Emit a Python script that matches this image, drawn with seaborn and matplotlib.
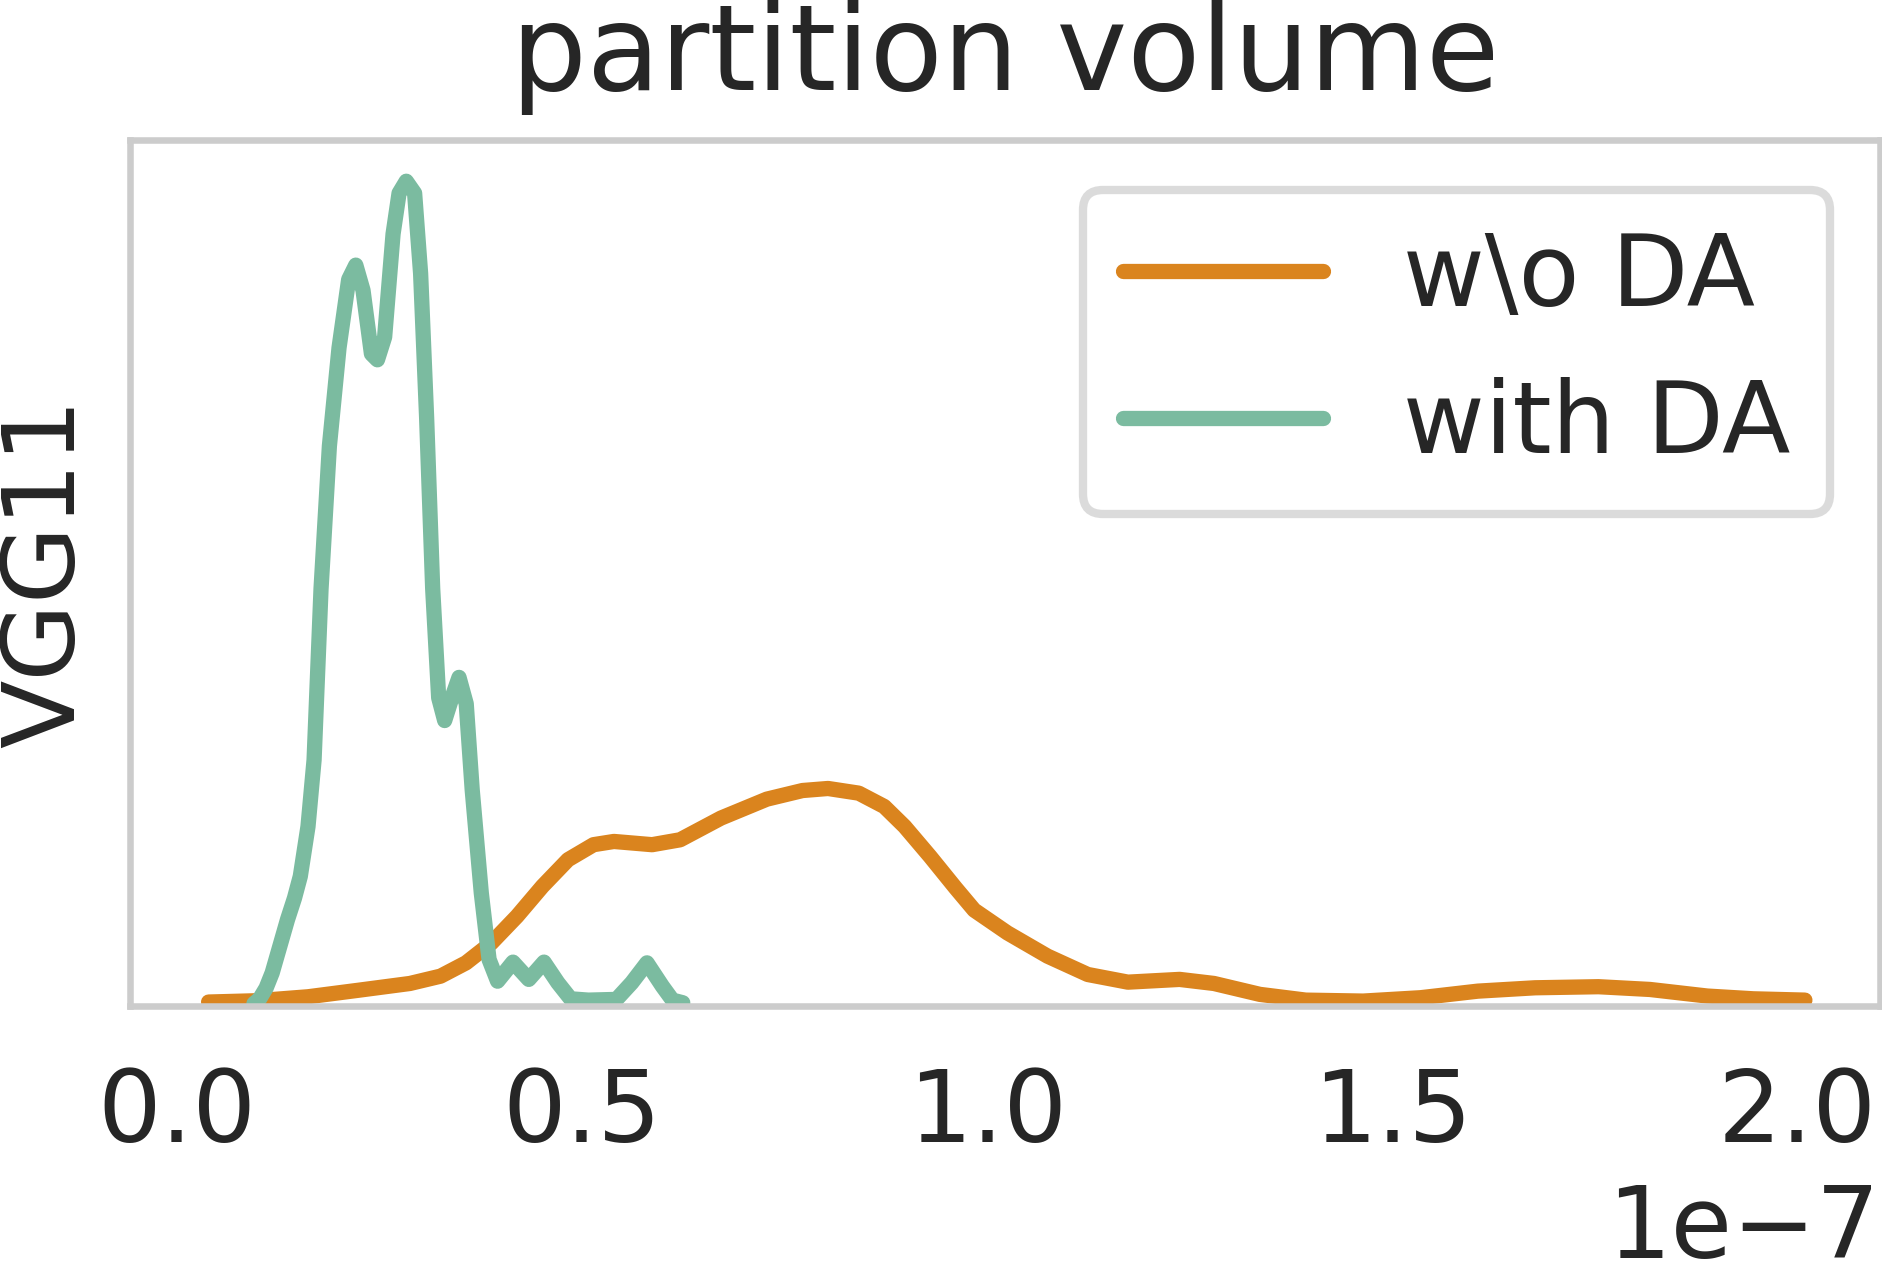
import matplotlib
matplotlib.use('Agg')
import matplotlib.pyplot as plt
import seaborn as sns
import numpy as np

# curve points (x in units of 1e-7, density in arbitrary units)
wo_da_x = [0.039, 0.0987, 0.1617, 0.2246, 0.2875, 0.3253, 0.3567, 0.3882, 0.4197, 0.4511,
           0.4827, 0.5141, 0.5393, 0.5864, 0.6210, 0.6714, 0.7280, 0.7721, 0.8036, 0.8415,
           0.8729, 0.8981, 0.9295, 0.9610, 0.9840, 1.0250, 1.0745, 1.1241, 1.1737, 1.2375,
           1.2799, 1.3366, 1.3933, 1.4640, 1.5348, 1.6056, 1.6764, 1.7545, 1.8181, 1.8889,
           1.9456, 2.0093]
wo_da_y = [0.033, 0.044, 0.077, 0.132, 0.188, 0.249, 0.360, 0.527, 0.749, 0.999,
           1.221, 1.346, 1.373, 1.346, 1.387, 1.568, 1.726, 1.798, 1.815, 1.776,
           1.665, 1.498, 1.248, 0.985, 0.800, 0.610, 0.416, 0.263, 0.199, 0.222,
           0.188, 0.097, 0.049, 0.041, 0.069, 0.124, 0.152, 0.161, 0.138, 0.083,
           0.060, 0.049]

with_da_x = [0.0950, 0.1020, 0.1100, 0.1175, 0.1270, 0.1364, 0.1450, 0.1522, 0.1617, 0.1692,
             0.1778, 0.1881, 0.2000, 0.2119, 0.2207, 0.2296, 0.2400, 0.2474, 0.2563, 0.2667,
             0.2741, 0.2830, 0.2933, 0.3007, 0.3081, 0.3156, 0.3230, 0.3304, 0.3393, 0.3481,
             0.3570, 0.3644, 0.3756, 0.3852, 0.3957, 0.4147, 0.4342, 0.4530, 0.4701, 0.4858,
             0.5078, 0.5424, 0.5613, 0.5801, 0.5990, 0.6116, 0.6243]
with_da_y = [0.020, 0.060, 0.150, 0.277, 0.500, 0.721, 0.900, 1.082, 1.498, 2.053,
             3.482, 4.672, 5.492, 6.062, 6.182, 5.972, 5.442, 5.392, 5.582, 6.442,
             6.782, 6.882, 6.782, 6.112, 4.912, 3.482, 2.572, 2.382, 2.572, 2.742,
             2.522, 1.802, 0.943, 0.388, 0.207, 0.366, 0.222, 0.366, 0.194, 0.060,
             0.049, 0.055, 0.194, 0.360, 0.166, 0.049, 0.027]

labels = ['w\\o DA', 'with DA']
colors = ['#DA841E', '#7BBBA0']
title = 'partition volume'
ylabel = 'VGG11'

sns.set_theme(style='white')
plt.rcParams['font.family'] = ['DejaVu Sans']
plt.rcParams['font.size'] = 72
plt.rcParams['text.color'] = '#262626'
plt.rcParams['xtick.color'] = '#262626'
plt.rcParams['axes.labelcolor'] = '#262626'

fig = plt.figure(figsize=(18.83, 12.84), dpi=100)
ax = fig.add_axes([130 / 1883, 1 - 1006 / 1284, 1750 / 1883, 866 / 1284])

lw = 11
for xs, ys, lab, col in zip([wo_da_x, with_da_x], [wo_da_y, with_da_y], labels, colors):
    sns.lineplot(x=np.array(xs) * 1e-7, y=ys, ax=ax, color=col, label=lab,
                 linewidth=lw, estimator=None, solid_capstyle='round', solid_joinstyle='round')

ax.set_xlim(-0.058e-7, 2.102e-7)
ax.set_ylim(0, max(with_da_y) * 1.05)
ax.set_xticks(np.array([0.0, 0.5, 1.0, 1.5, 2.0]) * 1e-7)
ax.set_yticks([])
ax.tick_params(axis='x', length=0, pad=43, labelsize=72)
ax.xaxis.get_offset_text().set_fontsize(72)
ax.xaxis.OFFSETTEXTPAD = 14
ax.set_ylabel(ylabel, fontsize=72, labelpad=25)
ax.set_xlabel('')
ax.set_title(title, fontsize=86, pad=36)

for sp in ax.spines.values():
    sp.set_color('#cccccc')
    sp.set_linewidth(4.7)

leg = ax.legend(loc='upper right', fontsize=72, frameon=True, fancybox=True)
leg.get_frame().set_edgecolor('#d3d3d3')
leg.get_frame().set_linewidth(6)
for line in leg.get_lines():
    line.set_linewidth(lw)
    line.set_solid_capstyle('round')

fig.savefig('out.png', dpi=100)
